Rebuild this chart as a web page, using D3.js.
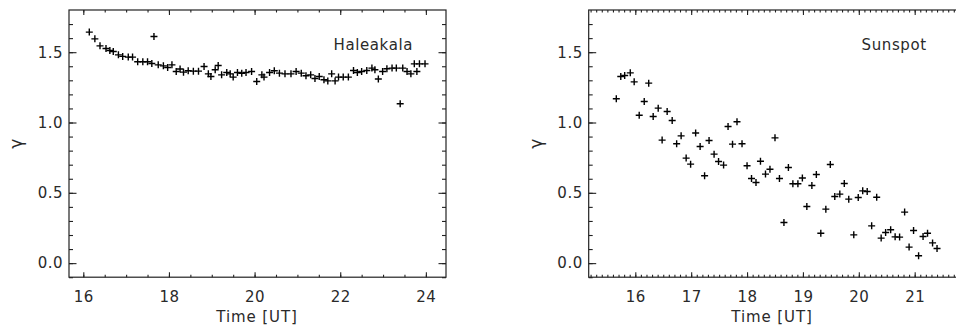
<!DOCTYPE html>
<html>
<head>
<meta charset="utf-8">
<script src="https://cdn.jsdelivr.net/npm/d3@7"></script>
<style>
  body { margin: 0; background: white; }
  svg { display: block; }
  text { font-family: "DejaVu Sans", sans-serif; fill: #2a2a2a; }
</style>
</head>
<body>
<div id="graphicContainer"></div>
<script>
// Haleakala: time [UT] and gamma
var haleakalaTime = [16.14, 16.27, 16.39, 16.53, 16.62, 16.70, 16.82, 16.92, 17.05, 17.15,
  17.27, 17.39, 17.50, 17.60, 17.65, 17.75, 17.87, 17.97, 18.07, 18.17,
  18.26, 18.34, 18.45, 18.57, 18.69, 18.82, 18.92, 18.98, 19.08, 19.15,
  19.23, 19.35, 19.43, 19.50, 19.60, 19.70, 19.80, 19.93, 20.05, 20.17,
  20.22, 20.35, 20.46, 20.58, 20.71, 20.85, 20.97, 21.09, 21.20, 21.31,
  21.41, 21.51, 21.62, 21.71, 21.80, 21.88, 21.96, 22.07, 22.19, 22.31,
  22.40, 22.50, 22.62, 22.74, 22.81, 22.89, 22.99, 23.09, 23.21, 23.31,
  23.40, 23.46, 23.56, 23.65, 23.73, 23.79, 23.85, 23.98]
var haleakalaGamma = [1.643, 1.595, 1.545, 1.526, 1.512, 1.505, 1.481, 1.470, 1.465, 1.465,
  1.432, 1.432, 1.432, 1.420, 1.612, 1.410, 1.403, 1.391, 1.410, 1.363,
  1.380, 1.358, 1.368, 1.365, 1.365, 1.398, 1.346, 1.327, 1.375, 1.405,
  1.339, 1.356, 1.346, 1.323, 1.356, 1.350, 1.356, 1.363, 1.292, 1.339,
  1.323, 1.356, 1.368, 1.351, 1.346, 1.346, 1.363, 1.351, 1.332, 1.339,
  1.313, 1.327, 1.304, 1.296, 1.346, 1.296, 1.323, 1.323, 1.323, 1.370,
  1.356, 1.363, 1.370, 1.387, 1.375, 1.309, 1.363, 1.382, 1.387, 1.387,
  1.133, 1.387, 1.363, 1.346, 1.417, 1.363, 1.417, 1.417]

// Sunspot: time [UT] and gamma
var sunspotTime = [15.66, 15.74, 15.81, 15.91, 15.98, 16.07, 16.16, 16.24, 16.32, 16.41,
  16.48, 16.57, 16.66, 16.74, 16.82, 16.91, 16.99, 17.08, 17.16, 17.24,
  17.32, 17.41, 17.49, 17.58, 17.66, 17.74, 17.82, 17.91, 18.00, 18.08,
  18.16, 18.24, 18.33, 18.41, 18.50, 18.58, 18.66, 18.74, 18.82, 18.91,
  18.99, 19.07, 19.16, 19.24, 19.32, 19.41, 19.49, 19.57, 19.66, 19.74,
  19.82, 19.91, 19.99, 20.07, 20.15, 20.23, 20.32, 20.40, 20.48, 20.57,
  20.65, 20.73, 20.82, 20.90, 20.98, 21.07, 21.15, 21.23, 21.32, 21.40]
var sunspotGamma = [1.169, 1.327, 1.334, 1.353, 1.289, 1.052, 1.149, 1.280, 1.043, 1.102,
  0.875, 1.078, 1.014, 0.849, 0.905, 0.747, 0.704, 0.925, 0.829, 0.621,
  0.872, 0.775, 0.723, 0.697, 0.972, 0.846, 1.005, 0.849, 0.692, 0.602,
  0.573, 0.725, 0.633, 0.668, 0.891, 0.602, 0.289, 0.680, 0.564, 0.564,
  0.605, 0.403, 0.552, 0.630, 0.213, 0.384, 0.701, 0.474, 0.491, 0.566,
  0.455, 0.201, 0.467, 0.514, 0.509, 0.265, 0.469, 0.178, 0.218, 0.237,
  0.187, 0.185, 0.363, 0.114, 0.232, 0.052, 0.189, 0.213, 0.144, 0.104]

var yTicks = [0.0, 0.5, 1.0, 1.5]
var haleakalaXTicks = [16, 18, 20, 22, 24]
var sunspotXTicks = [16, 17, 18, 19, 20, 21]

var target = "#graphicContainer";
var W = 956, H = 331;

var svg = d3.select(target).append("svg")
  .attr("width", W).attr("height", H);

var panels = [
  { name: "Haleakala", time: haleakalaTime, gamma: haleakalaGamma, left: 69,
    xDomain: [15.666, 24.47], xTicks: haleakalaXTicks, xMinorStep: 0.5, labelRight: 33, titleX: 257 },
  { name: "Sunspot", time: sunspotTime, gamma: sunspotGamma, left: 588.7,
    xDomain: [15.166, 21.913], xTicks: sunspotXTicks, xMinorStep: 0.1, labelRight: 39, titleX: 772 }
];

var marginTop = 10, plotH = 267.2, plotW = 377;

panels.forEach(function(p) {
  var g = svg.append("g").attr("transform", "translate(" + p.left + "," + marginTop + ")");

  var x = d3.scaleLinear().domain(p.xDomain).range([0, plotW]);
  var y = d3.scaleLinear().domain([-0.1, 1.8]).range([plotH, 0]);

  var xMinor = d3.range(Math.ceil(p.xDomain[0] / p.xMinorStep) * p.xMinorStep, p.xDomain[1], p.xMinorStep)
  var yMinor = d3.range(-0.1, 1.8, 0.1).map(function(d) { return Math.round(d * 10) / 10 })

  function styleAxis(sel) {
    sel.select(".domain").remove();
    sel.selectAll("line").attr("stroke", "#222").attr("stroke-width", 1.1);
    sel.selectAll("text").style("font-size", "15px").style("letter-spacing", "0.5px").attr("fill", "#2a2a2a");
  }

  // bottom axis
  g.append("g").attr("transform", "translate(0," + plotH + ")")
    .call(d3.axisBottom(x).tickValues(xMinor).tickSize(-2.5).tickFormat(""))
    .call(styleAxis);
  g.append("g").attr("transform", "translate(0," + plotH + ")")
    .call(d3.axisBottom(x).tickValues(p.xTicks).tickSize(-5).tickPadding(14).tickFormat(d3.format("d")))
    .call(styleAxis);

  // top axis
  g.append("g")
    .call(d3.axisTop(x).tickValues(xMinor).tickSize(-2.5).tickFormat(""))
    .call(styleAxis);
  g.append("g")
    .call(d3.axisTop(x).tickValues(p.xTicks).tickSize(-5).tickFormat(""))
    .call(styleAxis);

  // left axis
  g.append("g")
    .call(d3.axisLeft(y).tickValues(yMinor).tickSize(-4).tickFormat(""))
    .call(styleAxis);
  g.append("g")
    .call(d3.axisLeft(y).tickValues(yTicks).tickSize(-7.5).tickPadding(6).tickFormat(d3.format(".1f")))
    .call(styleAxis);

  // right axis
  g.append("g").attr("transform", "translate(" + plotW + ",0)")
    .call(d3.axisRight(y).tickValues(yMinor).tickSize(-4).tickFormat(""))
    .call(styleAxis);
  g.append("g").attr("transform", "translate(" + plotW + ",0)")
    .call(d3.axisRight(y).tickValues(yTicks).tickSize(-7.5).tickFormat(""))
    .call(styleAxis);

  // frame
  g.append("rect")
    .attr("width", plotW).attr("height", plotH)
    .attr("fill", "none").attr("stroke", "#222").attr("stroke-width", 1.2);

  // points
  var pts = p.time.map(function(t, i) { return [t, p.gamma[i]] })
  g.append("g").selectAll("path")
    .data(pts)
    .enter()
    .append("path")
    .attr("transform", function(d) { return "translate(" + x(d[0]) + "," + y(d[1]) + ")" })
    .attr("d", "M-3.5,0H3.5M0,-3.5V3.5")
    .attr("stroke", "black")
    .attr("stroke-width", 1.4)
    .attr("fill", "none");

  // station label
  g.append("text")
    .attr("x", plotW - p.labelRight)
    .attr("y", 40)
    .attr("text-anchor", "end")
    .style("font-size", "15px")
    .style("letter-spacing", "0.6px")
    .text(p.name);

  // axis titles
  g.append("text")
    .attr("x", p.titleX - p.left)
    .attr("y", 312)
    .attr("text-anchor", "middle")
    .style("font-size", "15px")
    .style("letter-spacing", "0.9px")
    .text("Time [UT]");

  g.append("text")
    .attr("transform", "translate(" + (-47) + "," + (plotH / 2) + ") rotate(-90)")
    .attr("text-anchor", "middle")
    .style("font-size", "17px")
    .text("γ");
});
</script>
</body>
</html>
